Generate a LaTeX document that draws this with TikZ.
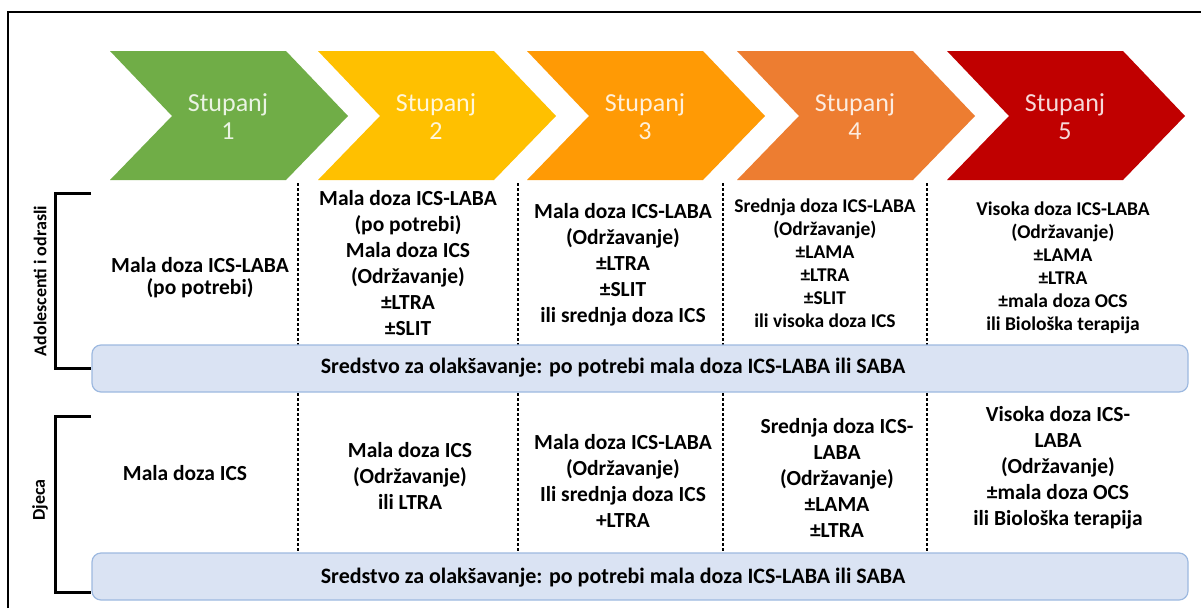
\documentclass[tikz,border=0pt]{standalone}
\usepackage{fontspec}
\setmainfont{Carlito}
\definecolor{cgreen}{HTML}{70AD47}
\definecolor{cyellow}{HTML}{FFC000}
\definecolor{corange}{HTML}{FF9A05}
\definecolor{corangeb}{HTML}{ED7D31}
\definecolor{cred}{HTML}{C00000}
\definecolor{barfill}{HTML}{DAE3F3}
\definecolor{barline}{HTML}{9DB9E0}
\tikzset{
  stxt/.style={font=\fontsize{26}{28}\selectfont, align=center, inner sep=0pt},
  cellA/.style={font=\bfseries\fontsize{21.5}{26}\selectfont, align=center, inner sep=0pt},
  cellB/.style={font=\bfseries\fontsize{19.5}{23}\selectfont, align=center, inner sep=0pt},
  cellC/.style={font=\bfseries\fontsize{21.5}{22}\selectfont, align=center, inner sep=0pt},
  bartxt/.style={font=\bfseries\fontsize{22}{26}\selectfont, inner sep=0pt},
  barbox/.style={rounded corners=9pt, fill=barfill, draw=barline, line width=1.2pt},
  sepline/.style={dash pattern=on 3pt off 2pt, line width=1.8pt},
  brk/.style={line width=3pt},
  grp/.style={font=\bfseries\fontsize{18}{20}\selectfont, rotate=90, inner sep=0pt},
}
\begin{document}
\begin{tikzpicture}[x=1pt,y=-1pt]
\useasboundingbox (0,0) rectangle (1201,608);
\fill[white] (0,0) rectangle (1201,608);
% frame
\draw[line width=2pt] (8,608) -- (8,12) -- (1201,12);
% chevrons
\foreach \x/\c/\n in {110/cgreen/1, 318/cyellow/2, 527/corange/3, 737/corangeb/4, 947/cred/5}{
  \fill[\c] (\x,51) -- ({\x+176},51) -- ({\x+238},116) -- ({\x+176},180) -- (\x,180) -- ({\x+62},116) -- cycle;
  \node[stxt, text=white!85!\c] (s\n) at ({\x+118},117) {Stupanj\\\n};
}
% separators
\foreach \x/\n in {298/1, 518/2, 723/3, 927/4}{
  \coordinate (sa\n) at (\x,183);
  \coordinate (sb\n) at (\x,553);
  \draw[sepline] (sa\n) -- (sb\n);
}
% bars
\draw[barbox] (92,345) rectangle (1188,392);
\draw[barbox] (92,553) rectangle (1188,600);
\node[bartxt] (bar1) at (613,368) {Sredstvo za olakšavanje: po potrebi mala doza ICS-LABA ili SABA};
\node[bartxt] (bar2) at (613,578) {Sredstvo za olakšavanje: po potrebi mala doza ICS-LABA ili SABA};
% brackets
\draw[brk] (91,193) -- (55,193) -- (55,368) -- (91,368);
\draw[brk] (91,416) -- (55,416) -- (55,592) -- (91,592);
\node[grp] (g1) at (40,281) {Adolescenti i odrasli};
\node[grp] (g2) at (40,500) {Djeca};
% row 1
\node[cellC] (r1c1) at (200,278) {Mala doza ICS-LABA\\(po potrebi)};
\node[cellA] (r1c2) at (408,263) {Mala doza ICS-LABA\\(po potrebi)\\Mala doza ICS\\(Održavanje)\\±LTRA\\±SLIT};
\node[cellA] (r1c3) at (623,265) {Mala doza ICS-LABA\\(Održavanje)\\±LTRA\\±SLIT\\ili srednja doza ICS};
\node[cellB] (r1c4) at (825,263) {Srednja doza ICS-LABA\\(Održavanje)\\±LAMA\\±LTRA\\±SLIT\\ili visoka doza ICS};
\node[cellB] (r1c5) at (1063,268) {Visoka doza ICS-LABA\\(Održavanje)\\±LAMA\\±LTRA\\±mala doza OCS\\ili Biološka terapija};
% row 2
\node[cellA] (r2c1) at (185,473) {Mala doza ICS};
\node[cellA] (r2c2) at (410,476) {Mala doza ICS\\(Održavanje)\\ili LTRA};
\node[cellA] (r2c3) at (623,481) {Mala doza ICS-LABA\\(Održavanje)\\Ili srednja doza ICS\\+LTRA};
\node[cellA] (r2c4) at (837,478) {Srednja doza ICS-\\LABA\\(Održavanje)\\±LAMA\\±LTRA};
\node[cellA] (r2c5) at (1058,468) {Visoka doza ICS-\\LABA\\(Održavanje)\\±mala doza OCS\\ili Biološka terapija};
\end{tikzpicture}
\end{document}
